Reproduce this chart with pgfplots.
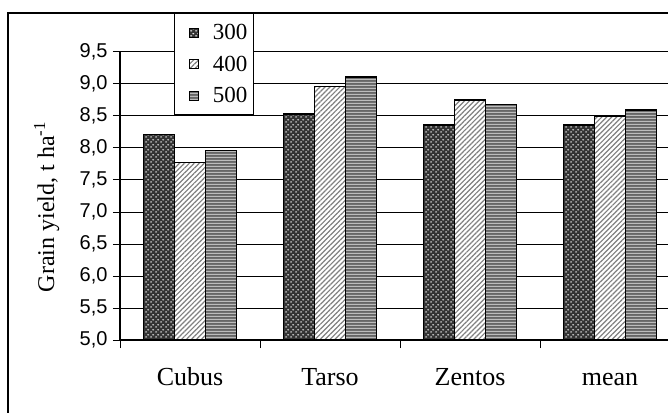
\documentclass[border=0pt]{standalone}
\usepackage{fontspec}
\setmainfont{Liberation Serif}
\newfontfamily\arialf{Liberation Sans}
\usepackage{pgfplots}
\pgfplotsset{compat=1.18}
\usetikzlibrary{patterns.meta}

% white dots on dark ground
\tikzdeclarepattern{
  name=wdots, type=uncolored,
  bottom left={(0pt,0pt)}, top right={(5pt,5pt)}, tile size={(5pt,5pt)},
  code={
    \fill (1.25pt,1.25pt) ellipse [x radius=1.3pt, y radius=0.85pt];
    \fill (3.75pt,3.75pt) ellipse [x radius=1.3pt, y radius=0.85pt];
  }
}
% horizontal stripes
\tikzdeclarepattern{
  name=hstripes, type=uncolored,
  bottom left={(0pt,0pt)}, top right={(1pt,3pt)}, tile size={(1pt,3pt)},
  code={\fill (0pt,0pt) rectangle (1pt,1.4pt);}
}

\newcommand\lf{\fontsize{23}{23}\selectfont}

\pgfplotstableread{
x  a300 a400 a500
0  8.21 7.77 7.96
1  8.53 8.96 9.11
2  8.36 8.75 8.68
3  8.36 8.50 8.59
}\yield

\begin{document}
\begin{tikzpicture}
\useasboundingbox (-120pt,-72pt) rectangle (548pt,340pt);
\draw[line width=1.5pt] (-112pt,327pt) rectangle (700pt,-100pt);
\begin{axis}[
  scale only axis, width=560pt, height=288pt,
  xmin=-0.5, xmax=3.5, ymin=5, ymax=9.5,
  axis x line*=bottom, axis y line*=left,
  axis line style={line width=1.2pt, black},
  ybar=0pt, bar width=31pt,
  xtick={0,1,2,3},
  xticklabels={Cubus,Tarso,Zentos,mean},
  minor xtick={-0.5,0.5,1.5,2.5,3.5},
  major x tick style={draw=none},
  minor x tick style={black, line width=1pt},
  ytick={5,5.5,...,9},
  extra y ticks={9.5},
  extra y tick style={grid style={black!50, line width=2pt}},
  ymajorgrids,
  major grid style={black, line width=1pt},
  tick align=outside,
  major tick length=7pt, minor tick length=8pt,
  y tick style={black, line width=1pt},
  yticklabel style={font=\arialf\fontsize{20}{20}\selectfont, xshift=-2pt,
    /pgf/number format/.cd, fixed, fixed zerofill, precision=1, use comma, assume math mode=true},
  xticklabel style={font=\fontsize{26}{26}\selectfont, text height=18pt, text depth=0pt, yshift=-17pt},
  ylabel={Grain yield, t ha\textsuperscript{-1}},
  ylabel style={font=\fontsize{24}{24}\selectfont, at={(axis description cs:-0.102,0.462)}, anchor=south},
  legend style={at={(axis description cs:0.0965,1.135)}, anchor=north west, draw=black, line width=1.2pt,
    fill=white, inner xsep=4pt, inner ysep=3pt,
    row sep=0pt, cells={anchor=west},
    /tikz/every odd column/.append style={column sep=12pt},
    nodes={inner xsep=2pt, inner ysep=7.4pt}},
  legend image code/.code={\path (-10pt,0pt);\draw[#1, line width=1pt] (0pt,-4.5pt) rectangle (9pt,4.5pt);},
]
\addplot[draw=black, line width=1.5pt, fill=black!80,
  postaction={pattern=wdots, pattern color=black!10}] table[x=x, y=a300] {\yield};
\addplot[draw=black, line width=1.5pt, fill=white,
  postaction={pattern={Lines[angle=45, distance=3.5pt, line width=1.2pt]}, pattern color=black!50}] table[x=x, y=a400] {\yield};
\addplot[draw=black, line width=1.5pt, fill=black!60,
  postaction={pattern=hstripes, pattern color=black!8}] table[x=x, y=a500] {\yield};
\legend{{\lf 300},{\lf 400},{\lf 500}}
\end{axis}
\end{tikzpicture}
\end{document}
